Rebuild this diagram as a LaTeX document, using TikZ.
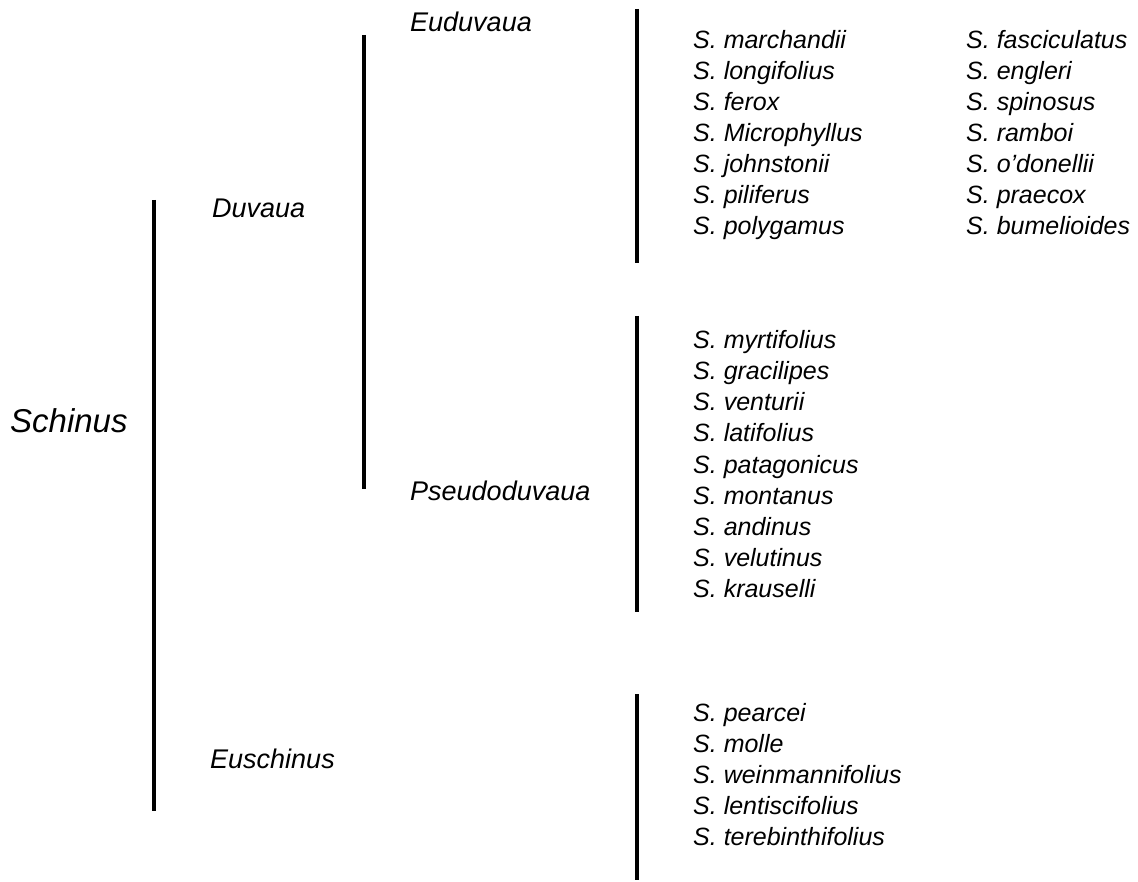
\documentclass[tikz,border=0pt]{standalone}
\usepackage{fontspec}
\setmainfont{Liberation Sans}
\usepackage{tikz}

\begin{document}
\begin{tikzpicture}[x=1pt,y=-1pt,
    bar/.style={line width=4pt,black},
    taxon/.style={anchor=base west,inner sep=0pt,font=\itshape\fontsize{27}{30}\selectfont},
    species/.style={anchor=base west,inner sep=0pt,font=\itshape\fontsize{25}{29}\selectfont}]
      \useasboundingbox (0,0) rectangle (1138,882);
      % names of the groups
      \node[taxon,font=\itshape\fontsize{33}{36}\selectfont] (schinus) at (10,432) {Schinus};
      \node[taxon] (duvaua) at (212,218) {Duvaua};
      \node[taxon] (euschinus) at (210,768) {Euschinus};
      \node[taxon] (euduvaua) at (410,32) {Euduvaua};
      \node[taxon] (pseudo) at (410,500) {Pseudoduvaua};
      % bars
      \coordinate (s-top) at (154,200);  \coordinate (s-bot) at (154,811);
      \coordinate (d-top) at (364,35);   \coordinate (d-bot) at (364,489);
      \coordinate (eu-top) at (637,9);   \coordinate (eu-bot) at (637,263);
      \coordinate (ps-top) at (637,316); \coordinate (ps-bot) at (637,612);
      \coordinate (es-top) at (637,694); \coordinate (es-bot) at (637,880);
      \draw[bar] (s-top) -- (s-bot);
      \draw[bar] (d-top) -- (d-bot);
      \draw[bar] (eu-top) -- (eu-bot);
      \draw[bar] (ps-top) -- (ps-bot);
      \draw[bar] (es-top) -- (es-bot);
      % species lists
      \foreach \sp [count=\i] in {marchandii,longifolius,ferox,Microphyllus,johnstonii,piliferus,polygamus}
        \node[species] (eua-\i) at (693,{49+31*(\i-1)}) {S. \sp};
      \foreach \sp [count=\i] in {fasciculatus,engleri,spinosus,ramboi,o’donellii,praecox,bumelioides}
        \node[species] (eub-\i) at (966,{49+31*(\i-1)}) {S. \sp};
      \foreach \sp [count=\i] in {myrtifolius,gracilipes,venturii,latifolius,patagonicus,montanus,andinus,velutinus,krauselli}
        \node[species] (ps-\i) at (693,{349+31*(\i-1)}) {S. \sp};
      \foreach \sp [count=\i] in {pearcei,molle,weinmannifolius,lentiscifolius,terebinthifolius}
        \node[species] (es-\i) at (693,{721+31*(\i-1)}) {S. \sp};
\end{tikzpicture}
\end{document}
